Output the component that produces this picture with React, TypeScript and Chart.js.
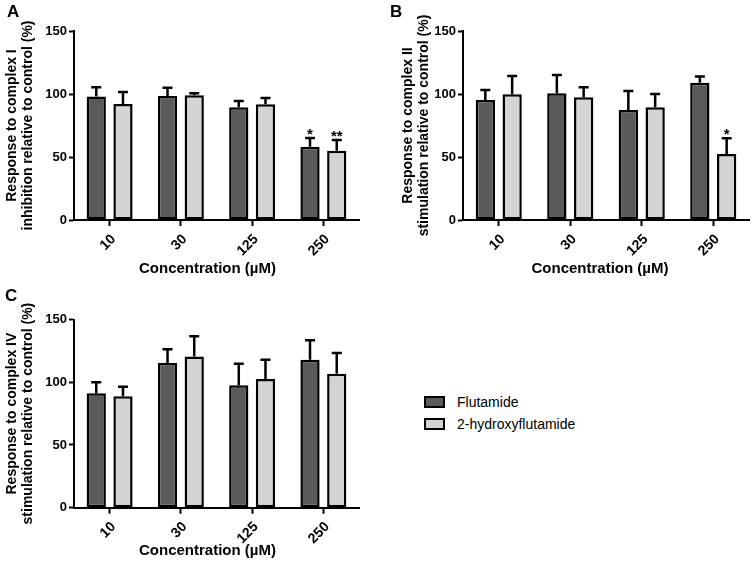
import React, { useEffect, useRef } from "react";
import { Chart, registerables } from "chart.js";

Chart.register(...registerables);

const FONT = "'Liberation Sans', Arial, Helvetica, sans-serif";

// ---- data ----
const categories = ["10", "30", "125", "250"];
const seriesNames = ["Flutamide", "2-hydroxyflutamide"];
const yTickValues = [0, 50, 100, 150];
const xAxisTitle = "Concentration (µM)";

const aTitle = ["Response to complex I", "inhibition relative to control (%)"];
const aFlutamide = [98, 98.4, 89.4, 58.2];
const aFlutamideErr = [7.3, 6.6, 5.0, 6.8];
const aFlutamideSig = ["", "", "", "*"];
const aHydroxy = [92, 99, 91.8, 55];
const aHydroxyErr = [9.6, 1.6, 5.0, 8.5];
const aHydroxySig = ["", "", "", "**"];

const bTitle = ["Response to complex II", "stimulation relative to control (%)"];
const bFlutamide = [95.2, 100.5, 87.3, 109];
const bFlutamideErr = [8.0, 14.5, 15.1, 4.8];
const bFlutamideSig = ["", "", "", ""];
const bHydroxy = [99.8, 97.4, 89.4, 52.4];
const bHydroxyErr = [14.5, 7.9, 10.6, 12.4];
const bHydroxySig = ["", "", "", "*"];

const cTitle = ["Response to complex IV", "stimulation relative to control (%)"];
const cFlutamide = [91.2, 115.3, 97.5, 117.9];
const cFlutamideErr = [8.7, 10.9, 17.2, 15.5];
const cFlutamideSig = ["", "", "", ""];
const cHydroxy = [88.8, 120.6, 102.5, 106.8];
const cHydroxyErr = [7.6, 16.0, 15.4, 16.5];
const cHydroxySig = ["", "", "", ""];

const DARK = "#5a5a5a";
const LIGHT = "#d4d4d4";

type Panel = {
  letter: string;
  yTitle: string[];
  series: { values: number[]; errors: number[]; sig: string[] }[];
  left: number;
  top: number;
  width: number;
  height: number;
  padTop: number;
  padRight: number;
  yWidth: number;
  xHeight: number;
  yTitlePad: number;
  letterX: number;
  letterY: number;
  xTitleDx: number;
  xTitleDy: number;
};

const panels: Panel[] = [
  {
    letter: "A",
    yTitle: aTitle,
    series: [
      { values: aFlutamide, errors: aFlutamideErr, sig: aFlutamideSig },
      { values: aHydroxy, errors: aHydroxyErr, sig: aHydroxySig },
    ],
    left: 0, top: 0, width: 375, height: 285,
    padTop: 31, padRight: 16, yWidth: 74, xHeight: 65, yTitlePad: 4,
    letterX: 7, letterY: 17, xTitleDx: -9, xTitleDy: 49,
  },
  {
    letter: "B",
    yTitle: bTitle,
    series: [
      { values: bFlutamide, errors: bFlutamideErr, sig: bFlutamideSig },
      { values: bHydroxy, errors: bHydroxyErr, sig: bHydroxySig },
    ],
    left: 380, top: 0, width: 375, height: 285,
    padTop: 31, padRight: 6, yWidth: 83, xHeight: 65, yTitlePad: 20,
    letterX: 10, letterY: 17, xTitleDx: -6, xTitleDy: 49,
  },
  {
    letter: "C",
    yTitle: cTitle,
    series: [
      { values: cFlutamide, errors: cFlutamideErr, sig: cFlutamideSig },
      { values: cHydroxy, errors: cHydroxyErr, sig: cHydroxySig },
    ],
    left: 0, top: 285, width: 375, height: 281,
    padTop: 34.5, padRight: 16, yWidth: 74, xHeight: 58.3, yTitlePad: 4,
    letterX: 5, letterY: 16, xTitleDx: -9, xTitleDy: 43,
  },
];

const errorBarPlugin = {
  id: "errorBars",
  afterDatasetsDraw(chart: any) {
    const ctx = chart.ctx;
    const yScale = chart.scales.y;
    chart.data.datasets.forEach((ds: any, i: number) => {
      const meta = chart.getDatasetMeta(i);
      meta.data.forEach((bar: any, j: number) => {
        const v = ds.data[j];
        const e = ds.errors[j];
        const topPx = yScale.getPixelForValue(v + e);
        const x = bar.x;
        ctx.save();
        ctx.strokeStyle = "#000";
        ctx.lineWidth = 2.5;
        ctx.beginPath();
        ctx.moveTo(x, bar.y);
        ctx.lineTo(x, topPx);
        ctx.moveTo(x - 5, topPx);
        ctx.lineTo(x + 5, topPx);
        ctx.stroke();
        const s = ds.sig[j];
        if (s) {
          ctx.fillStyle = "#000";
          ctx.font = `bold 15px ${FONT}`;
          ctx.textAlign = "center";
          ctx.textBaseline = "alphabetic";
          ctx.fillText(s, x, topPx + 1);
        }
        ctx.restore();
      });
    });
  },
};

const decorPlugin = {
  id: "decor",
  afterDraw(chart: any, _args: any, opts: any) {
    const ctx = chart.ctx;
    const area = chart.chartArea;
    ctx.save();
    ctx.fillStyle = "#000";
    ctx.font = `bold 15px ${FONT}`;
    ctx.textAlign = "center";
    ctx.textBaseline = "middle";
    ctx.fillText(opts.xTitle, (area.left + area.right) / 2 + opts.dx, area.bottom + opts.dy);
    ctx.font = `bold 17px ${FONT}`;
    ctx.textAlign = "left";
    ctx.textBaseline = "alphabetic";
    ctx.fillText(opts.letter, opts.lx, opts.ly);
    ctx.restore();
  },
};

function BarPanel({ p }: { p: Panel }) {
  const ref = useRef<HTMLCanvasElement | null>(null);
  useEffect(() => {
    if (!ref.current) return;
    const yFont = { family: FONT, size: 13, weight: "bold" as const };
    const xFont = { family: FONT, size: 14, weight: "bold" as const };
    const chart = new Chart(ref.current, {
      type: "bar",
      data: {
        labels: categories,
        datasets: p.series.map((s, i) => ({
          label: seriesNames[i],
          data: s.values,
          errors: s.errors,
          sig: s.sig,
          backgroundColor: i === 0 ? DARK : LIGHT,
          borderColor: "#000",
          borderWidth: 2.5,
          borderSkipped: false,
          categoryPercentage: 0.75,
          barPercentage: 0.72,
        })) as any,
      },
      options: {
        responsive: false,
        animation: false,
        devicePixelRatio: 1,
        layout: { padding: { top: p.padTop, right: p.padRight, left: 0, bottom: 0 } },
        plugins: {
          legend: { display: false },
          tooltip: { enabled: false },
          decor: {
            xTitle: xAxisTitle,
            dx: p.xTitleDx,
            dy: p.xTitleDy,
            letter: p.letter,
            lx: p.letterX,
            ly: p.letterY,
          },
        } as any,
        scales: {
          x: {
            type: "category",
            offset: true,
            grid: {
              offset: false,
              drawOnChartArea: false,
              drawTicks: true,
              tickLength: 6,
              tickWidth: 2,
              tickColor: "#000",
            },
            border: { display: true, color: "#000", width: 2 },
            ticks: {
              color: "#000",
              font: xFont,
              maxRotation: 45,
              minRotation: 45,
              padding: 5,
              labelOffset: 4,
              autoSkip: false,
            },
            afterFit: (s: any) => {
              s.height = p.xHeight;
            },
          },
          y: {
            min: 0,
            max: 150,
            afterBuildTicks: (s: any) => {
              s.ticks = yTickValues.map((v) => ({ value: v }));
            },
            grid: {
              drawOnChartArea: false,
              drawTicks: true,
              tickLength: 5,
              tickWidth: 2,
              tickColor: "#000",
            },
            border: { display: true, color: "#000", width: 2 },
            ticks: { color: "#000", font: yFont, padding: 2 },
            title: {
              display: true,
              text: p.yTitle,
              color: "#000",
              font: { family: FONT, size: 14, weight: "bold", lineHeight: 1.15 },
              padding: { top: p.yTitlePad, bottom: 0 },
            },
            afterFit: (s: any) => {
              s.width = p.yWidth;
            },
          },
        } as any,
      },
      plugins: [errorBarPlugin, decorPlugin],
    });
    return () => chart.destroy();
  }, [p]);
  return (
    <canvas
      ref={ref}
      width={p.width}
      height={p.height}
      style={{ position: "absolute", left: p.left, top: p.top }}
    />
  );
}

function Legend() {
  const items = [
    { name: seriesNames[0], color: DARK },
    { name: seriesNames[1], color: LIGHT },
  ];
  return (
    <div style={{ position: "absolute", left: 424, top: 396 }}>
      {items.map((it, i) => (
        <div
          key={it.name}
          style={{
            display: "flex",
            alignItems: "center",
            height: 12,
            marginBottom: i === 0 ? 10 : 0,
            fontFamily: FONT,
            fontSize: 14,
            color: "#000",
            whiteSpace: "nowrap",
          }}
        >
          <span
            style={{
              display: "inline-block",
              boxSizing: "border-box",
              width: 21,
              height: 12,
              border: "2.5px solid #000",
              background: it.color,
              marginRight: 12,
            }}
          />
          <span style={{ lineHeight: "12px" }}>{it.name}</span>
        </div>
      ))}
    </div>
  );
}

export default function App() {
  return (
    <div
      style={{
        position: "absolute",
        left: 0,
        top: 0,
        width: 755,
        height: 566,
        background: "#fff",
        overflow: "hidden",
      }}
    >
      {panels.map((p) => (
        <BarPanel key={p.letter} p={p} />
      ))}
      <Legend />
    </div>
  );
}
